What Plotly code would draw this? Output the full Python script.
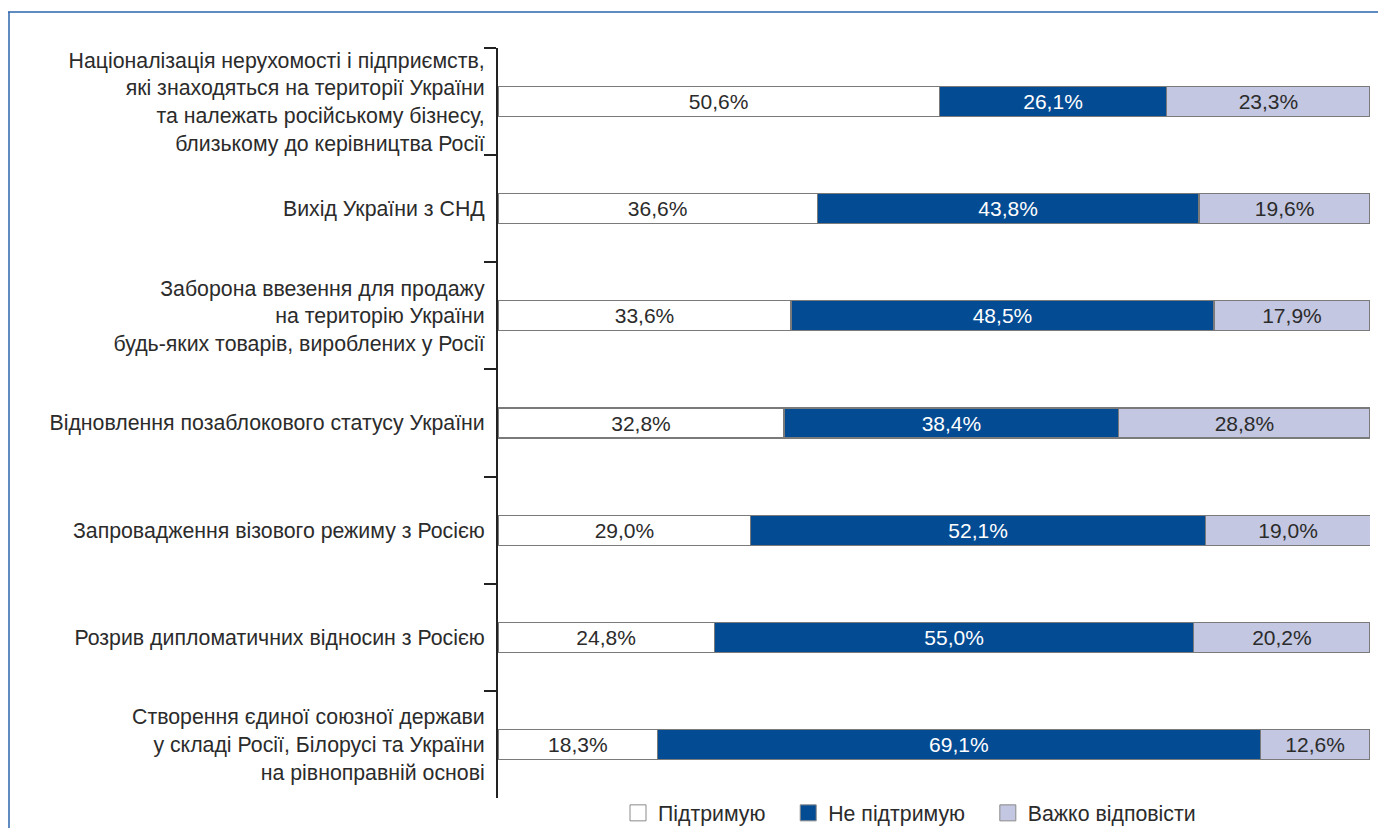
import plotly.graph_objects as go

categories = [
    "Націоналізація нерухомості і підприємств,<br>які знаходяться на території України<br>та належать російському бізнесу,<br>близькому до керівництва Росії",
    "Вихід України з СНД",
    "Заборона ввезення для продажу<br>на територію України<br>будь-яких товарів, вироблених у Росії",
    "Відновлення позаблокового статусу України",
    "Запровадження візового режиму з Росією",
    "Розрив дипломатичних відносин з Росією",
    "Створення єдиної союзної держави<br>у складі Росії, Білорусі та України<br>на рівноправній основі",
]
support = [50.6, 36.6, 33.6, 32.8, 29.0, 24.8, 18.3]
oppose = [26.1, 43.8, 48.5, 38.4, 52.1, 55.0, 69.1]
hard = [23.3, 19.6, 17.9, 28.8, 19.0, 20.2, 12.6]
series_names = ["Підтримую", "Не підтримую", "Важко відповісти"]

FONT = "Liberation Sans, Arial, Helvetica, sans-serif"
PAD = "\u00a0\u00a0\u00a0"

def fmt(vals):
    return [f"{v:.1f}%".replace(".", ",") for v in vals]

fig = go.Figure()
specs = [
    (series_names[0], support, "#ffffff", "#2b2b2b"),
    (series_names[1], oppose, "#034b93", "#ffffff"),
    (series_names[2], hard, "#c3c7e1", "#2b2b2b"),
]
for name, vals, color, tcolor in specs:
    fig.add_trace(go.Bar(
        y=categories, x=vals, name=name, orientation="h",
        marker=dict(color=color, line=dict(color="#7a7a7a", width=1.2)),
        text=fmt(vals), textposition="inside", insidetextanchor="middle",
        textfont=dict(size=21, color=tcolor, family=FONT),
        constraintext="none", width=0.28, hoverinfo="skip", showlegend=False,
    ))
# legend-only entries (larger square swatches)
for i, (name, vals, color, tcolor) in enumerate(specs):
    fig.add_trace(go.Scatter(
        x=[None], y=[None], mode="markers",
        name=name + (PAD if i < len(specs) - 1 else ""),
        marker=dict(symbol="square", size=16, color=color,
                    line=dict(color="#8a8a8a", width=1)),
        hoverinfo="skip", showlegend=True,
    ))

# figure pixel geometry (page = figure + 8px body margin)
W, H = 1370, 820
L, R, T, B = 490, 8, 40, 30
pw, ph = W - L - R, H - T - B

def px_x(p):
    return (p - L) / pw

def px_y(p):
    return (H - B - p) / ph

fig.update_layout(
    width=W, height=H,
    margin=dict(l=L, r=R, t=T, b=B, autoexpand=False),
    barmode="stack",
    paper_bgcolor="white", plot_bgcolor="white",
    font=dict(family=FONT, size=21.3, color="#2b2b2b"),
    xaxis=dict(range=[0, 100], visible=False, fixedrange=True),
    yaxis=dict(
        autorange="reversed", showline=True, linecolor="#222222", linewidth=2,
        ticks="outside", tickson="boundaries", ticklen=12, tickwidth=2,
        tickcolor="#222222", showgrid=False, zeroline=False,
        tickfont=dict(size=21.3, color="#2b2b2b", family=FONT),
        ticklabelstandoff=7,
    ),
    legend=dict(
        orientation="h", x=px_x(610), xanchor="left", y=px_y(805), yanchor="middle",
        font=dict(size=21.3, color="#2b2b2b", family=FONT),
        itemwidth=30, traceorder="normal", tracegroupgap=0,
        bgcolor="rgba(0,0,0,0)", itemsizing="trace",
    ),
    showlegend=True,
    shapes=[
        dict(type="line", xref="paper", yref="paper",
             x0=px_x(0), x1=px_x(1400), y0=px_y(4), y1=px_y(4),
             line=dict(color="#2a64ad", width=1.5)),
        dict(type="line", xref="paper", yref="paper",
             x0=px_x(1), x1=px_x(1), y0=px_y(4), y1=px_y(850),
             line=dict(color="#2a64ad", width=1.5)),
    ],
)

fig.write_html("out.html")
